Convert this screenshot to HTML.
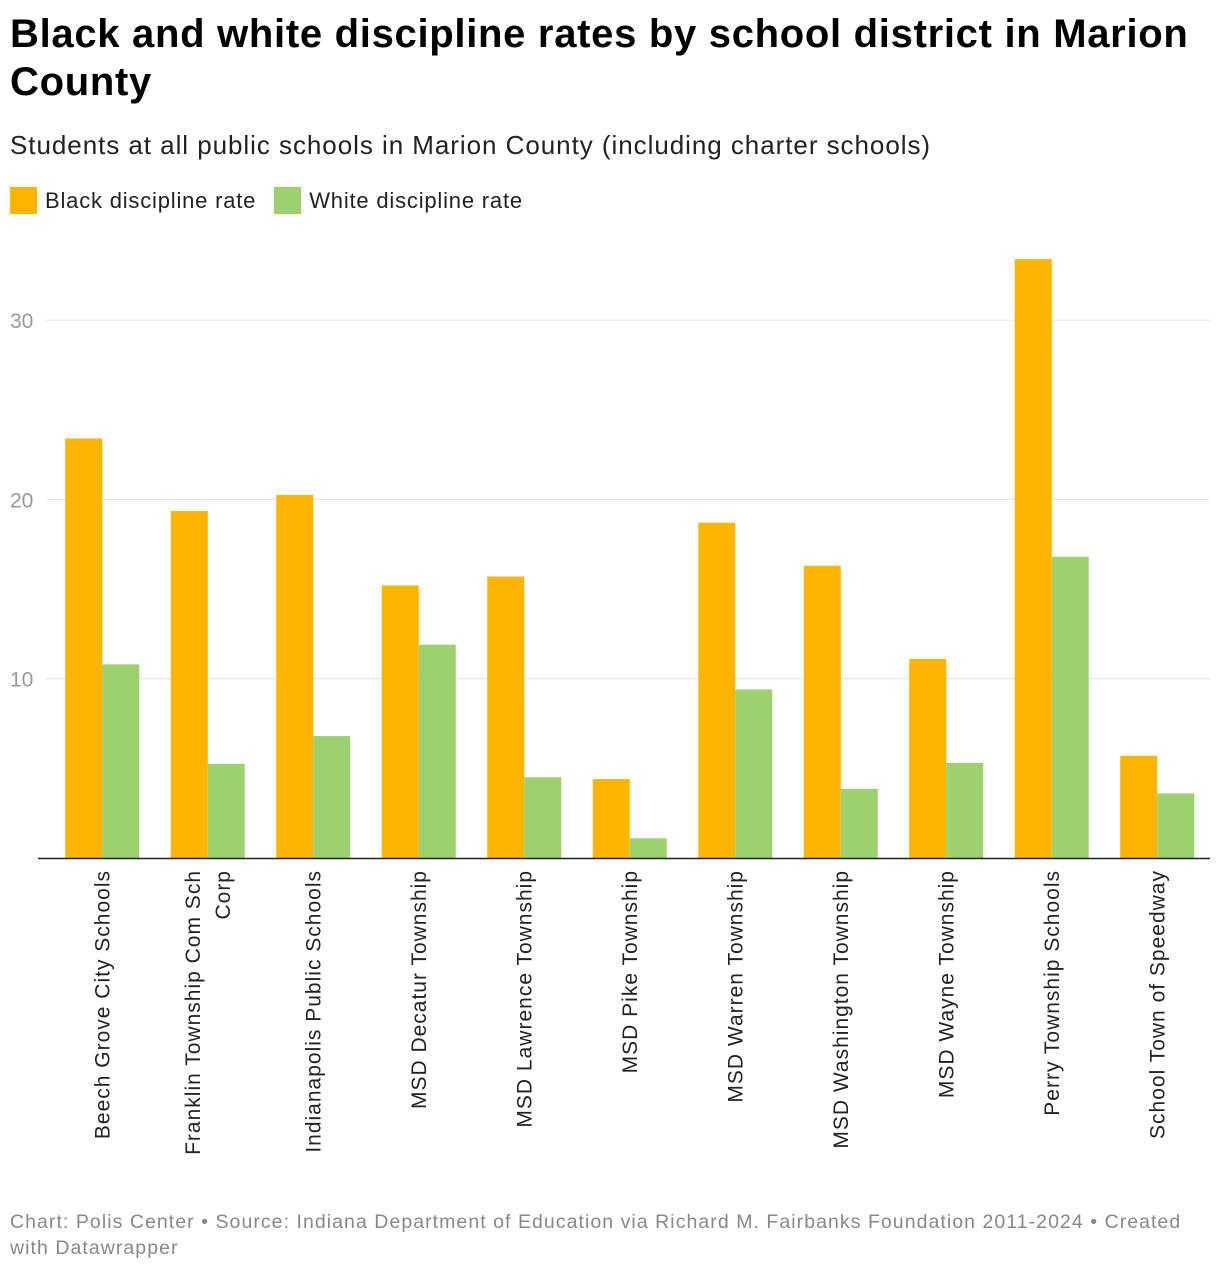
<!DOCTYPE html>
<html><head><meta charset="utf-8"><style>
body{margin:0;background:#fff;font-family:"Liberation Sans",Roboto,sans-serif;width:1220px;height:1272px;overflow:hidden;position:relative}
#title{position:absolute;left:10px;top:10px;width:1205px;font-size:40px;font-weight:bold;line-height:48px;color:#000;margin:0;letter-spacing:0.7px}
#sub{position:absolute;left:10px;top:130px;font-size:26px;color:#222;letter-spacing:0.95px}
#legend{position:absolute;left:10px;top:187px;font-size:22px;color:#222;display:flex;gap:18px;letter-spacing:0.8px}
.li{display:flex;align-items:center}
.sw{width:27px;height:27px;margin-right:8px;display:inline-block}
#foot{position:absolute;left:10px;top:1209px;width:1185px;font-size:19.5px;line-height:26px;color:#888;letter-spacing:1.05px}
</style></head><body>
<h1 id="title">Black and white discipline rates by school district in Marion County</h1>
<div id="sub">Students at all public schools in Marion County (including charter schools)</div>
<div id="legend">
<div class="li"><span class="sw" style="background:#ffb400"></span>Black discipline rate</div>
<div class="li"><span class="sw" style="background:#9dd16f"></span>White discipline rate</div>
</div>
<svg id="chart" width="1220" height="1272" style="position:absolute;left:0;top:0"></svg>
<div id="foot">Chart: Polis Center • Source: Indiana Department of Education via Richard M. Fairbanks Foundation 2011-2024 • Created with Datawrapper</div>
<script>
const categories=[["Beech Grove City Schools"],["Franklin Township Com Sch","Corp"],["Indianapolis Public Schools"],["MSD Decatur Township"],["MSD Lawrence Township"],["MSD Pike Township"],["MSD Warren Township"],["MSD Washington Township"],["MSD Wayne Township"],["Perry Township Schools"],["School Town of Speedway"]];
const blackRate=[23.4,19.35,20.25,15.2,15.7,4.4,18.7,16.3,11.1,33.4,5.7];
const whiteRate=[10.8,5.25,6.8,11.9,4.5,1.1,9.4,3.85,5.3,16.8,3.6];
const yTicks=[10,20,30];
const NS="http://www.w3.org/2000/svg";
const svg=document.getElementById('chart');
const x0=49.5,x1=1210,y0=858,pxPer=17.93;
const y=v=>y0-v*pxPer;
const gw=(x1-x0)/categories.length,bw=37;
function el(t,a){const e=document.createElementNS(NS,t);for(const k in a)e.setAttribute(k,a[k]);svg.appendChild(e);return e;}
yTicks.forEach(t=>{
 const g=el('line',{x1:46,x2:1210,y1:y(t),y2:y(t),stroke:'#e0e0e0','stroke-width':1});
 
 
 const tx=el('text',{x:10,y:y(t)+8,'font-size':21,fill:'#999','font-family':'Liberation Sans, sans-serif'});
 tx.textContent=t;
 
 
});
categories.forEach((c,i)=>{
 const cx=x0+gw*(i+0.5);
 const b=el('rect',{x:cx-bw,y:y(blackRate[i]),width:bw,height:blackRate[i]*pxPer,fill:'#ffb400'});
 
 
 const w=el('rect',{x:cx,y:y(whiteRate[i]),width:bw,height:whiteRate[i]*pxPer,fill:'#9dd16f'});
 
 
 const n=c.length;
 c.forEach((line,j)=>{
  const off=(j-(n-1)/2)*30;
  const t=el('text',{transform:`translate(${cx+7+off},870) rotate(-90)`,'text-anchor':'end','font-size':21,'letter-spacing':'1',fill:'#222','font-family':'Liberation Sans, sans-serif'});
  t.textContent=line;
  
  
 });
});
const ax=el('line',{x1:38,x2:1210,y1:y0+0.5,y2:y0+0.5,stroke:'#222','stroke-width':1.5});


</script>
</body></html>
